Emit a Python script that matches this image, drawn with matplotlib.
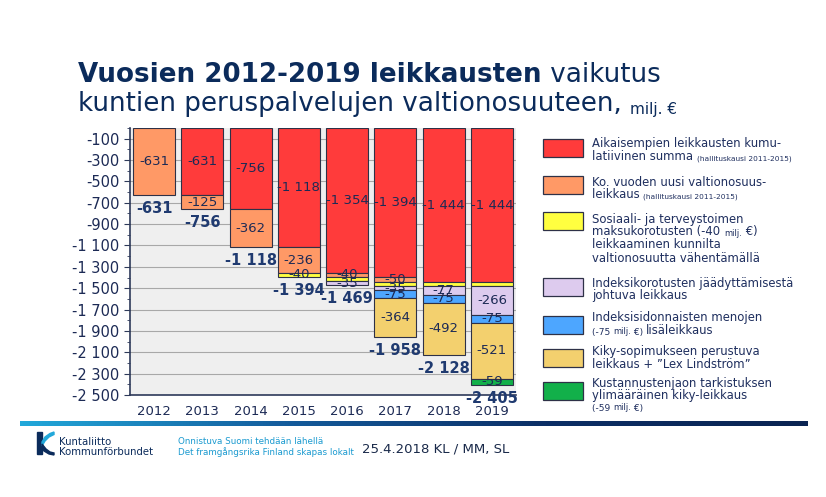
import numpy as np
import matplotlib.pyplot as plt
from matplotlib.patches import Rectangle, Polygon
from matplotlib.colors import LinearSegmentedColormap
from matplotlib.ticker import FixedLocator, MultipleLocator

# ── Data (milj. €) ───────────────────────────────────────────────────────
years        = ["2012", "2013", "2014", "2015", "2016", "2017", "2018", "2019"]
prior_cum    = [0, -631, -756, -1118, -1354, -1394, -1444, -1444]
year_cut     = [-631, -125, -362, -236, -40, -50, 0, 0]
sote_fees    = [0, 0, 0, -40, -40, -40, -40, -40]
index_freeze = [0, 0, 0, 0, -35, -35, -77, -266]
index_extra  = [0, 0, 0, 0, 0, -75, -75, -75]
kiky         = [0, 0, 0, 0, 0, -364, -492, -521]
kiky_extra   = [0, 0, 0, 0, 0, 0, 0, -59]
totals       = [-631, -756, -1118, -1394, -1469, -1958, -2128, -2405]
y_ticks      = list(range(-100, -2600, -200))

SERIES = [prior_cum, year_cut, sote_fees, index_freeze, index_extra, kiky, kiky_extra]
COLORS = ["#FF3B3B", "#FF9966", "#FFFF40", "#DDCBEE", "#4DA6FF", "#F3D06E", "#12B04A"]
HIDE_LABEL = {(2, 4), (2, 5), (2, 6), (2, 7)}   # yellow -40 not labelled from 2016 on

LEGEND = [
    [[("Aikaisempien leikkausten kumu-", 8.4)],
     [("latiivinen summa ", 8.4), ("(hallituskausi 2011-2015)", 5.3)]],
    [[("Ko. vuoden uusi valtionosuus-", 8.4)],
     [("leikkaus ", 8.4), ("(hallituskausi 2011-2015)", 5.3)]],
    [[("Sosiaali- ja terveystoimen", 8.4)],
     [("maksukorotusten (-40 ", 8.4), ("milj.", 6.0), (" €)", 8.4)],
     [("leikkaaminen kunnilta", 8.4)],
     [("valtionosuutta vähentämällä", 8.4)]],
    [[("Indeksikorotusten jäädyttämisestä", 8.4)],
     [("johtuva leikkaus", 8.4)]],
    [[("Indeksisidonnaisten menojen", 8.4)],
     [("(-75 ", 6.5), ("milj.", 6.0), (" €) ", 6.5), ("lisäleikkaus", 8.4)]],
    [[("Kiky-sopimukseen perustuva", 8.4)],
     [("leikkaus + ”Lex Lindström”", 8.4)]],
    [[("Kustannustenjaon tarkistuksen", 8.4)],
     [("ylimääräinen kiky-leikkaus", 8.4)],
     [("(-59 ", 6.5), ("milj.", 6.0), (" €)", 6.5)]],
]
# legend box tops and line centres, pixels from top
LEG_BOX_TOP = [139, 176, 212, 278, 316, 349, 382]
LEG_LINE_Y  = [[143, 156], [182, 194], [219, 232, 245, 258], [283, 296],
               [318, 332], [352, 365], [384, 396, 408]]

NAVY = "#0b2b5b"
TXT  = "#1c2a55"


def fmt(v):
    return f"{v:,}".replace(",", " ")


W, H = 826, 497
fig = plt.figure(figsize=(W / 100, H / 100), dpi=100)
fig.patch.set_facecolor("white")

# ── Main chart ────────────────────────────────────────────────────────────
ax = fig.add_axes([130 / W, 1 - 395 / H, (516 - 130) / W, (395 - 128) / H])
ax.set_facecolor("#EFEFEF")
x = np.arange(len(years))
base = np.zeros(len(years))
for i, (vals, col) in enumerate(zip(SERIES, COLORS)):
    vals = np.array(vals, dtype=float)
    nz = vals != 0
    ax.bar(x[nz], vals[nz], bottom=base[nz], width=0.87, color=col,
           edgecolor="#2e3147", linewidth=0.8, zorder=3)
    for j in np.where(nz)[0]:
        if (i, j) in HIDE_LABEL:
            continue
        ax.text(x[j], base[j] + vals[j] / 2, fmt(int(vals[j])), ha="center",
                va="center", fontsize=9.5, color=TXT, zorder=4)
    base = base + vals

for j, t in enumerate(totals):
    ax.annotate(fmt(t), xy=(x[j], t), xytext=(0, -13), textcoords="offset points",
                ha="center", va="baseline", fontsize=10.5, fontweight="bold",
                color="#1f3a70", annotation_clip=False, zorder=5)

ax.set_xlim(-0.5, len(years) - 0.5)
ax.set_ylim(-2500, 0)
ax.yaxis.set_major_locator(FixedLocator(y_ticks))
ax.yaxis.set_minor_locator(MultipleLocator(100))
ax.set_yticklabels([fmt(v) for v in y_ticks])
ax.set_xticks(x)
ax.set_xticklabels(years)
ax.tick_params(axis="y", which="major", length=4, labelsize=10.5, labelcolor=TXT,
               color="#2e3a5a")
ax.tick_params(axis="y", which="minor", length=2, color="#2e3a5a")
ax.tick_params(axis="x", length=0, labelsize=9.5, labelcolor=TXT, pad=7)
ax.yaxis.grid(True, color="#A8A8A8", lw=0.8)
ax.set_axisbelow(True)
for s in ["top", "right"]:
    ax.spines[s].set_visible(False)
for s in ["left", "bottom"]:
    ax.spines[s].set_color("#2e3a5a")
    ax.spines[s].set_linewidth(1.2)

# ── Overlay in pixel coordinates for title, legend, footer ───────────────
ov = fig.add_axes([0, 0, 1, 1], zorder=5)
ov.set_xlim(0, W)
ov.set_ylim(H, 0)
ov.set_facecolor("none")
ov.axis("off")

t1 = ov.text(78, 82, "Vuosien 2012-2019 leikkausten", fontsize=18.8, fontweight="bold",
             color=NAVY, va="baseline")
ov.annotate(" vaikutus", xy=(1, 0), xycoords=t1, va="bottom", fontsize=18.8, color=NAVY)
t2 = ov.text(78, 111, "kuntien peruspalvelujen valtionosuuteen, ", fontsize=18.8,
             color=NAVY, va="baseline")
ov.annotate("milj. €", xy=(1, 0), xycoords=t2, va="bottom", fontsize=11, color=NAVY)

# legend
for entry, top, ys, col in zip(LEGEND, LEG_BOX_TOP, LEG_LINE_Y, COLORS):
    ov.add_patch(Rectangle((543, top), 40, 18, facecolor=col, edgecolor="#2e3147",
                           linewidth=0.9))
    for parts, yc in zip(entry, ys):
        prev = None
        for txt, size in parts:
            if prev is None:
                prev = ov.text(592, yc, txt, fontsize=size, color="#1f2f5f", va="center")
            else:
                prev = ov.annotate(txt, xy=(1, 0), xycoords=prev, va="bottom",
                                   fontsize=size, color="#1f2f5f")

# footer gradient line
cmap = LinearSegmentedColormap.from_list("kl", ["#22A8DA", "#145c9c", "#0c2f66", "#0a2452"])
ov.imshow(np.linspace(0, 1, 256)[None, :], cmap=cmap, aspect="auto",
          extent=[20, 808, 426, 421])
ov.set_xlim(0, W)
ov.set_ylim(H, 0)

# logo
ov.add_patch(Rectangle((37, 432), 5, 22, color=NAVY))
ov.add_patch(Polygon([(42, 442), (45, 437), (50, 433.5), (54, 432), (54, 434.5),
                      (49, 437), (45, 441), (42, 446)], color="#22A8DA"))
ov.add_patch(Polygon([(42, 444), (46, 449), (50, 452), (54, 453), (54, 455),
                      (49, 454), (44, 451), (42, 448)], color=NAVY))
ov.text(59, 442, "Kuntaliitto", fontsize=7.3, color=NAVY, va="center")
ov.text(59, 452, "Kommunförbundet", fontsize=7.3, color=NAVY, va="center")

ov.text(178, 441, "Onnistuva Suomi tehdään lähellä", fontsize=6.3, color="#1a9ad0",
        va="center")
ov.text(178, 452, "Det framgångsrika Finland skapas lokalt", fontsize=6.3,
        color="#1a9ad0", va="center")
ov.text(362, 449, "25.4.2018 KL / MM, SL", fontsize=9.5, color="#1a2a4a", va="center")

fig.savefig("out.png", dpi=100)
